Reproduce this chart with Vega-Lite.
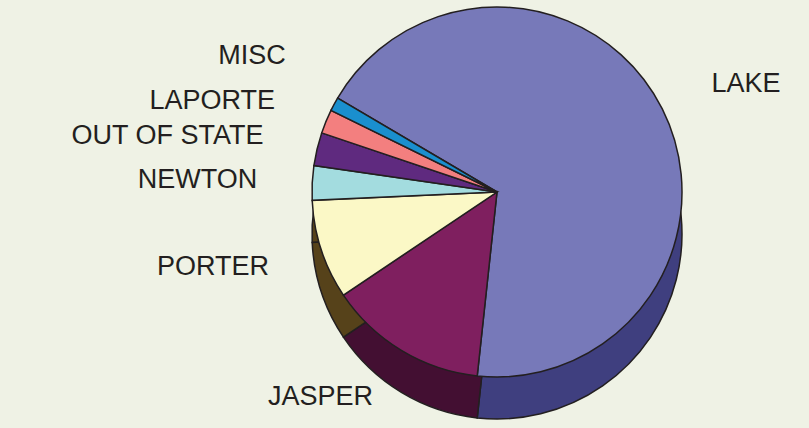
{
  "$schema": "https://vega.github.io/schema/vega-lite/v6.json",
  "width": 624,
  "height": 384,
  "autosize": {"type": "none"},
  "padding": {"left": 185, "top": 0, "right": 0, "bottom": 44},
  "background": "#eff2e5",
  "config": {"view": {"stroke": null}},
  "data": {
    "values": [
      {"county": "LAKE", "share": 68.3, "rank": 1},
      {"county": "JASPER", "share": 13.9, "rank": 2},
      {"county": "PORTER", "share": 8.7, "rank": 3},
      {"county": "NEWTON", "share": 3.0, "rank": 4},
      {"county": "OUT OF STATE", "share": 2.9, "rank": 5},
      {"county": "LAPORTE", "share": 2.1, "rank": 6},
      {"county": "MISC", "share": 1.2, "rank": 7}
    ]
  },
  "layer": [
    {
      "mark": {"type": "arc", "outerRadius": 185, "yOffset": 42, "stroke": "#231f20", "strokeWidth": 1.5},
      "encoding": {
        "theta": {"field": "share", "type": "quantitative", "stack": true, "scale": {"range": [5.2447, 11.5279]}},
        "order": {"field": "rank", "type": "quantitative"},
        "color": {
          "field": "county", "type": "nominal", "legend": null,
          "scale": {
            "domain": ["LAKE", "JASPER", "PORTER", "NEWTON", "OUT OF STATE", "LAPORTE", "MISC"],
            "range": ["#3f3f7f", "#430f32", "#56421a", "#56421a", "#56421a", "#56421a", "#56421a"]
          }
        }
      }
    },
    {
      "mark": {"type": "arc", "outerRadius": 185, "stroke": "#231f20", "strokeWidth": 1.5},
      "encoding": {
        "theta": {"field": "share", "type": "quantitative", "stack": true, "scale": {"range": [5.2447, 11.5279]}},
        "order": {"field": "rank", "type": "quantitative"},
        "color": {
          "field": "county", "type": "nominal", "legend": null,
          "scale": {
            "domain": ["LAKE", "JASPER", "PORTER", "NEWTON", "OUT OF STATE", "LAPORTE", "MISC"],
            "range": ["#7779b9", "#7f1f5f", "#fbf8c6", "#a3dcdf", "#5f2a7f", "#f37f7f", "#1a8fce"]
          }
        }
      }
    },
    {
      "mark": {
        "type": "text", "radius": 240, "font": "Liberation Sans", "fontSize": 27, "fill": "#231f20",
        "baseline": "middle",
        "align": {"expr": "datum.county == 'LAKE' ? 'left' : 'right'"},
        "dy": {"expr": "datum.county == 'MISC' ? -22 : 0"}
      },
      "encoding": {
        "theta": {"field": "share", "type": "quantitative", "stack": true, "scale": {"range": [5.2447, 11.5279]}},
        "order": {"field": "rank", "type": "quantitative"},
        "text": {"field": "county", "type": "nominal"}
      }
    }
  ],
  "resolve": {"scale": {"color": "independent"}}
}
